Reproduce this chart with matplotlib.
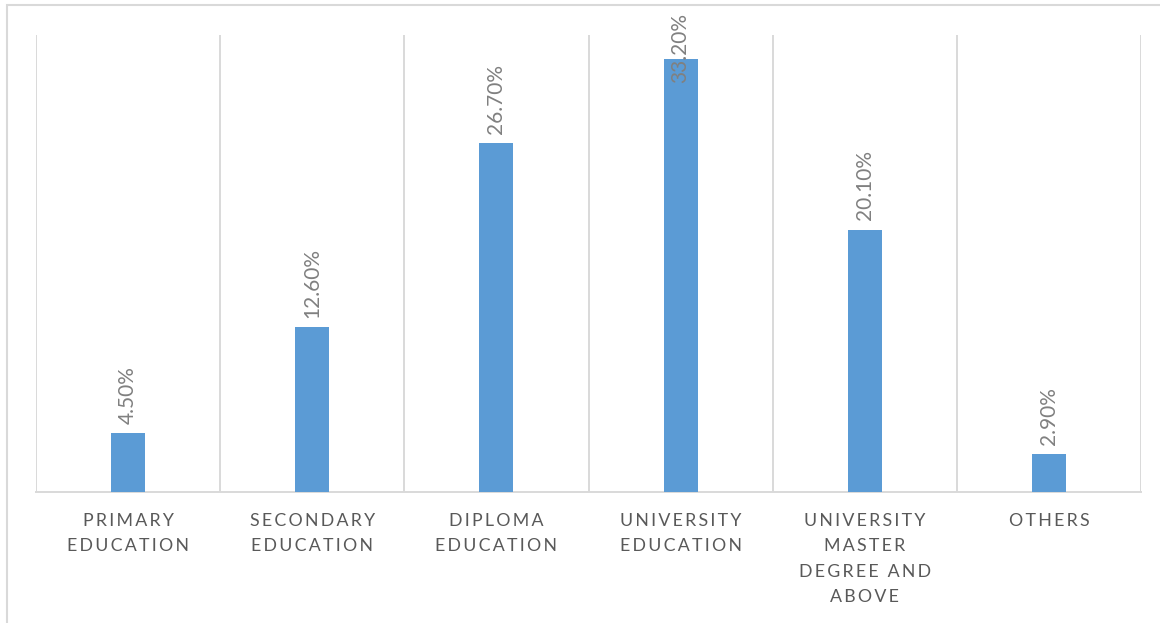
import matplotlib
matplotlib.use("Agg")
import matplotlib.pyplot as plt
from matplotlib.patches import Rectangle

categories = [
    "PRIMARY\nEDUCATION",
    "SECONDARY\nEDUCATION",
    "DIPLOMA\nEDUCATION",
    "UNIVERSITY\nEDUCATION",
    "UNIVERSITY\nMASTER\nDEGREE AND\nABOVE",
    "OTHERS",
]
values = [4.5, 12.6, 26.7, 33.2, 20.1, 2.9]
value_labels = ["4.50%", "12.60%", "26.70%", "33.20%", "20.10%", "2.90%"]

BAR_COLOR = "#5b9bd5"
GRID_COLOR = "#d9d9d9"
TEXT_COLOR = "#595959"
LABEL_COLOR = "#808080"
FONT = ["Lato", "DejaVu Sans"]

W, H = 1160, 623
fig = plt.figure(figsize=(W / 100, H / 100), dpi=100)
ax = fig.add_axes([36 / W, 1 - 492 / H, (1141 - 36) / W, (492 - 35) / H])

x = list(range(len(values)))
ax.bar(x, values, width=0.185, color=BAR_COLOR, zorder=3)
ax.set_xlim(-0.5, len(values) - 0.5)
ax.set_ylim(0, 35)

# category separators
for b in range(len(values) + 1):
    ax.axvline(b - 0.5, color=GRID_COLOR, lw=1.4, zorder=1)

for s in ["top", "left", "right"]:
    ax.spines[s].set_visible(False)
ax.spines["bottom"].set_color(GRID_COLOR)
ax.spines["bottom"].set_linewidth(1.4)
ax.set_yticks([])
ax.set_xticks([])


def spaced(s):
    return "\n".join("\u2009".join(ch for ch in line) for line in s.split("\n"))


for xi, cat in zip(x, categories):
    ax.text(xi, -1.6, spaced(cat), ha="center", va="top", fontsize=12.8,
            color=TEXT_COLOR, family=FONT, linespacing=1.72, clip_on=False)

# data labels, rotated above each bar; a label that would run past the
# top of the figure is pulled down so it overlaps its bar instead
fig.canvas.draw()
renderer = fig.canvas.get_renderer()
top_limit = 36.7
for xi, v, lab in zip(x, values, value_labels):
    t = ax.text(xi, v + 0.7, lab, rotation=90, ha="center", va="bottom",
                fontsize=15, color=LABEL_COLOR, family=FONT, zorder=4,
                clip_on=False)
    bb = t.get_window_extent(renderer).transformed(ax.transData.inverted())
    if bb.y1 > top_limit:
        t.set_y(top_limit)
        t.set_va("top")

# outer frame of the chart area
fig.patches.append(Rectangle((7 / W, -0.05), 1.2, 1 - 5 / H + 0.05,
                             transform=fig.transFigure, fill=False,
                             edgecolor=GRID_COLOR, lw=1.5))

fig.savefig("out.png", dpi=100)
